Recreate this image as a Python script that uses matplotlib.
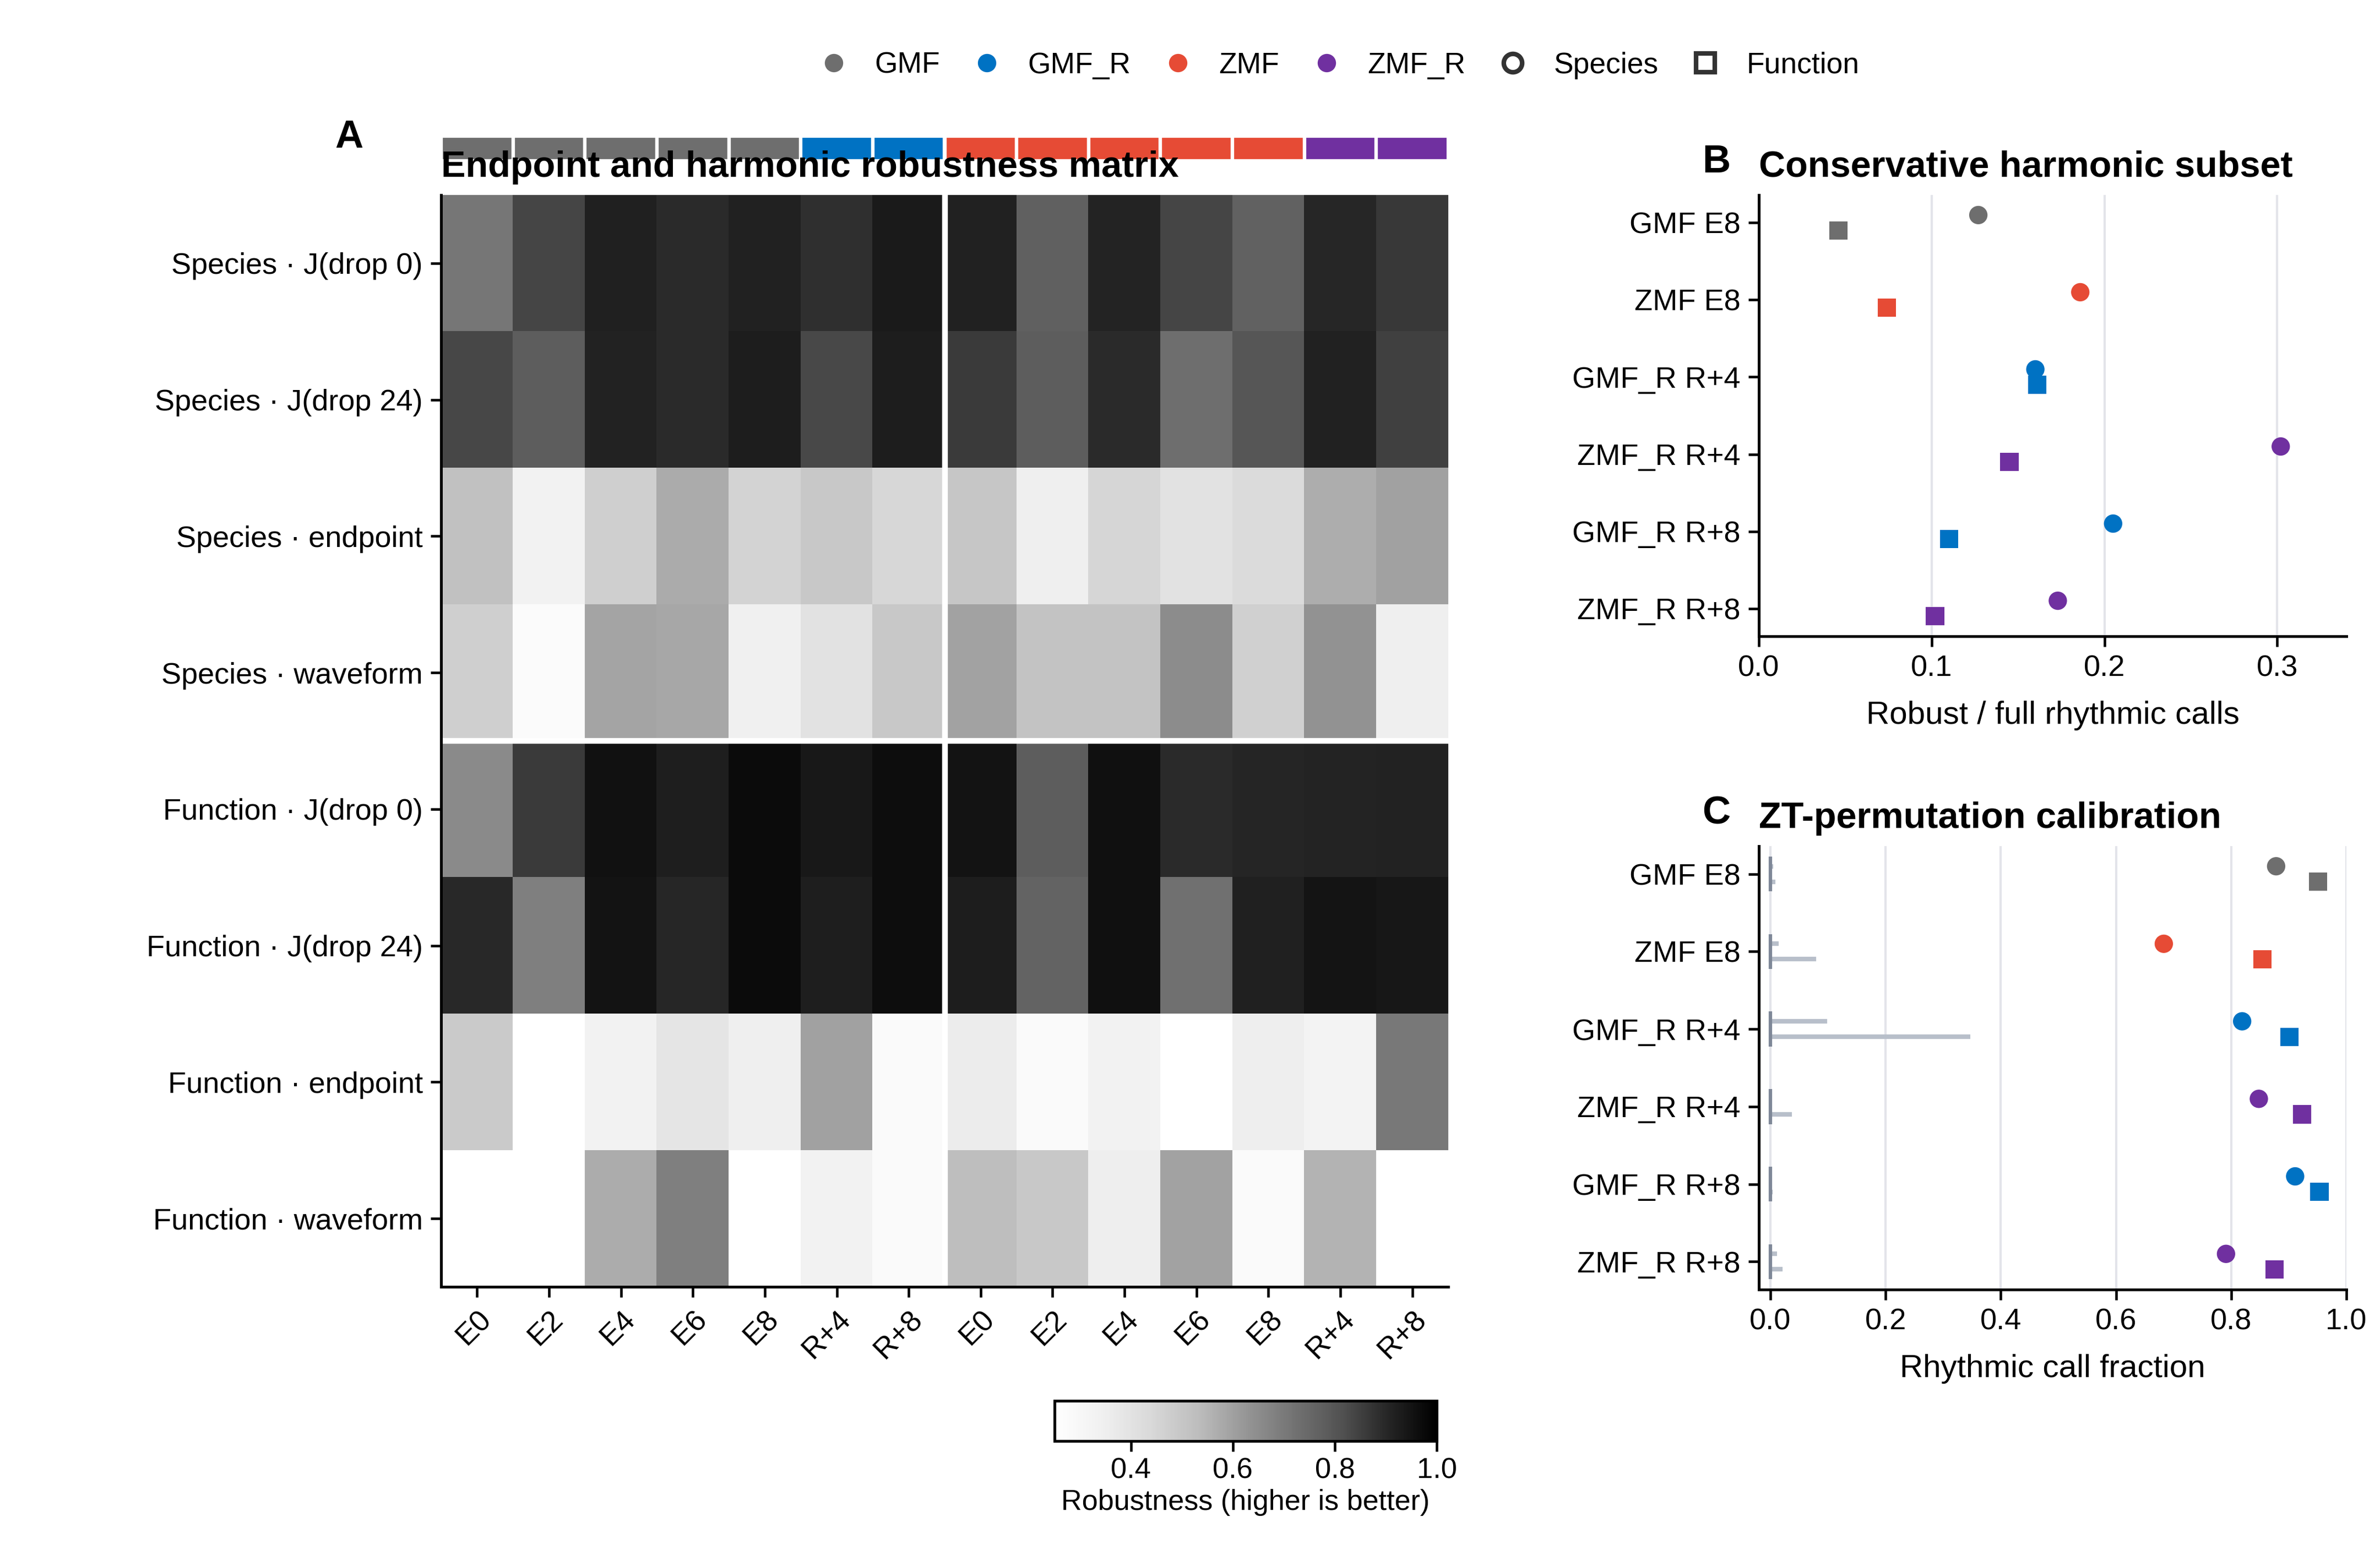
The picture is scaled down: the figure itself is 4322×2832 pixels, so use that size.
import matplotlib
matplotlib.use("Agg")
import matplotlib.pyplot as plt
from matplotlib.lines import Line2D
import numpy as np

plt.rcParams["font.family"] = ["Liberation Sans", "DejaVu Sans"]
plt.rcParams["axes.linewidth"] = 1.2

GROUP_COLORS = {
    "GMF": "#6E6E6E",
    "GMF_R": "#0072C3",
    "ZMF": "#E64B35",
    "ZMF_R": "#7030A0",
}
COLOR_BAR = "#B8BFCA"
COLOR_BASE = "#7F8898"
COLOR_GRID = "#E3E4EA"

# ---- panel A data ----
COL_LABELS = ["E0", "E2", "E4", "E6", "E8", "R+4", "R+8",
              "E0", "E2", "E4", "E6", "E8", "R+4", "R+8"]
COL_GROUPS = ["GMF"] * 5 + ["GMF_R"] * 2 + ["ZMF"] * 5 + ["ZMF_R"] * 2
ROW_LABELS = [
    "Species · J(drop 0)",
    "Species · J(drop 24)",
    "Species · endpoint",
    "Species · waveform",
    "Function · J(drop 0)",
    "Function · J(drop 24)",
    "Function · endpoint",
    "Function · waveform",
]
ROB_SPECIES_J0 = [0.708, 0.836, 0.917, 0.892, 0.914, 0.883, 0.932, 0.914, 0.770, 0.909, 0.838, 0.767, 0.902, 0.864]
ROB_SPECIES_J24 = [0.835, 0.779, 0.911, 0.892, 0.924, 0.831, 0.924, 0.862, 0.779, 0.894, 0.733, 0.799, 0.914, 0.850]
ROB_SPECIES_END = [0.518, 0.331, 0.468, 0.574, 0.458, 0.494, 0.444, 0.501, 0.348, 0.448, 0.397, 0.426, 0.567, 0.596]
ROB_SPECIES_WAVE = [0.468, 0.275, 0.591, 0.582, 0.338, 0.397, 0.494, 0.594, 0.508, 0.508, 0.649, 0.464, 0.636, 0.344]
ROB_FUNC_J0 = [0.657, 0.862, 0.954, 0.921, 0.969, 0.936, 0.962, 0.949, 0.779, 0.957, 0.892, 0.906, 0.908, 0.910]
ROB_FUNC_J24 = [0.898, 0.684, 0.949, 0.902, 0.969, 0.921, 0.962, 0.926, 0.762, 0.957, 0.725, 0.917, 0.946, 0.939]
ROB_FUNC_END = [0.485, 0.240, 0.331, 0.385, 0.344, 0.596, 0.281, 0.360, 0.281, 0.331, 0.240, 0.352, 0.325, 0.703]
ROB_FUNC_WAVE = [0.240, 0.240, 0.572, 0.684, 0.240, 0.331, 0.281, 0.528, 0.494, 0.352, 0.594, 0.281, 0.553, 0.240]

# ---- panels B / C data ----
SUBSET_LABELS = ["GMF E8", "ZMF E8", "GMF_R R+4", "ZMF_R R+4", "GMF_R R+8", "ZMF_R R+8"]
SUBSET_GROUPS = ["GMF", "ZMF", "GMF_R", "ZMF_R", "GMF_R", "ZMF_R"]
SUBSET_SPECIES = [0.127, 0.186, 0.160, 0.302, 0.205, 0.173]
SUBSET_FUNCTION = [0.046, 0.074, 0.161, 0.145, 0.110, 0.102]

CALIB_SPECIES = [0.878, 0.683, 0.819, 0.848, 0.911, 0.791]
CALIB_FUNCTION = [0.951, 0.854, 0.901, 0.923, 0.953, 0.875]
PERM_SPECIES = [0.005, 0.014, 0.099, 0.0, 0.0, 0.012]
PERM_FUNCTION = [0.0085, 0.079, 0.347, 0.037, 0.004, 0.021]

W, H = 4322, 2832
fig = plt.figure(figsize=(W / 300, H / 300), dpi=300, facecolor="white")


def fx(px):
    return px / W


def fy(py):
    return 1 - py / H


# ---- group strip (created first so the title sits on top) ----
ax_strip = fig.add_axes([fx(801), fy(292), fx(2630 - 801), (292 - 247) / H])
ax_strip.bar(np.arange(len(COL_GROUPS)), 1, width=1.0,
             color=[GROUP_COLORS[g] for g in COL_GROUPS],
             edgecolor="white", linewidth=1.5)
ax_strip.set_xlim(-0.5, len(COL_GROUPS) - 0.5)
ax_strip.set_ylim(0, 1)
ax_strip.axis("off")

# ---- panel A heatmap ----
ax = fig.add_axes([fx(801), fy(2336), fx(2630 - 801), (2336 - 354) / H])
matrix = np.array([ROB_SPECIES_J0, ROB_SPECIES_J24, ROB_SPECIES_END, ROB_SPECIES_WAVE,
                   ROB_FUNC_J0, ROB_FUNC_J24, ROB_FUNC_END, ROB_FUNC_WAVE])
im = ax.imshow(matrix, cmap="Greys", vmin=0.25, vmax=1.0, aspect="auto",
               interpolation="nearest")
ax.axvline(6.5, color="white", linewidth=2.5)
ax.axhline(3.5, color="white", linewidth=2.5)
ax.set_xticks(np.arange(len(COL_LABELS)))
ax.set_xticklabels(COL_LABELS, rotation=45, ha="right", rotation_mode="anchor",
                   fontsize=13)
ax.set_yticks(np.arange(len(ROW_LABELS)))
ax.set_yticklabels(ROW_LABELS, fontsize=13)
ax.tick_params(length=4.5, width=1.1)
for side in ("top", "right"):
    ax.spines[side].set_visible(False)
ax.set_title("Endpoint and harmonic robustness matrix", loc="left",
             fontsize=16, fontweight="bold", pad=8)

cax = fig.add_axes([fx(1915), fy(2616), fx(2609 - 1915), (2616 - 2543) / H])
cb = fig.colorbar(im, cax=cax, orientation="horizontal")
cb.set_ticks([0.4, 0.6, 0.8, 1.0])
cb.ax.tick_params(labelsize=12.6, length=4.5, width=1.1, pad=2.5)
cb.outline.set_linewidth(1.2)
cb.set_label("Robustness (higher is better)", fontsize=12.5, labelpad=2)

ypos = np.arange(len(SUBSET_LABELS))
marker_colors = [GROUP_COLORS[g] for g in SUBSET_GROUPS]


def style_side(a):
    for side in ("top", "right"):
        a.spines[side].set_visible(False)
    a.set_yticks(ypos)
    a.set_yticklabels(SUBSET_LABELS, fontsize=13)
    a.set_ylim(len(SUBSET_LABELS) - 1 + 0.36, -0.36)
    a.tick_params(labelsize=13, length=4.5, width=1.1)
    a.grid(axis="x", color=COLOR_GRID, linewidth=1.0)
    a.set_axisbelow(True)


# ---- panel B ----
axb = fig.add_axes([fx(3194), fy(1155), fx(4261 - 3194), (1155 - 354) / H])
axb.scatter(SUBSET_SPECIES, ypos - 0.1, marker="o", s=64, c=marker_colors,
            linewidths=0, zorder=3)
axb.scatter(SUBSET_FUNCTION, ypos + 0.1, marker="s", s=64, c=marker_colors,
            linewidths=0, zorder=3)
axb.set_xlim(0, 0.34)
axb.set_xticks([0.0, 0.1, 0.2, 0.3])
style_side(axb)
axb.set_xlabel("Robust / full rhythmic calls", fontsize=14, labelpad=8)
axb.set_title("Conservative harmonic subset", loc="left", fontsize=16,
              fontweight="bold", pad=8)

# ---- panel C ----
axc = fig.add_axes([fx(3194), fy(2341), fx(4261 - 3194), (2341 - 1536) / H])
axc.hlines(ypos - 0.1, 0, PERM_SPECIES, color=COLOR_BAR, linewidth=2.0, zorder=2)
axc.hlines(ypos + 0.1, 0, PERM_FUNCTION, color=COLOR_BAR, linewidth=2.0, zorder=2)
axc.vlines(np.zeros(len(ypos)), ypos - 0.225, ypos + 0.225, color=COLOR_BASE,
           linewidth=1.5, zorder=2)
axc.scatter(CALIB_SPECIES, ypos - 0.1, marker="o", s=64, c=marker_colors,
            linewidths=0, zorder=3)
axc.scatter(CALIB_FUNCTION, ypos + 0.1, marker="s", s=64, c=marker_colors,
            linewidths=0, zorder=3)
axc.set_xlim(-0.02, 1.0)
axc.set_xticks([0.0, 0.2, 0.4, 0.6, 0.8, 1.0])
style_side(axc)
axc.set_xlabel("Rhythmic call fraction", fontsize=14, labelpad=8)
axc.set_title("ZT-permutation calibration", loc="left", fontsize=16,
              fontweight="bold", pad=8)

# panel letters
fig.text(fx(608), fy(268), "A", fontsize=17, fontweight="bold", va="baseline")
fig.text(fx(3091), fy(313), "B", fontsize=17, fontweight="bold", va="baseline")
fig.text(fx(3091), fy(1495), "C", fontsize=17, fontweight="bold", va="baseline")

# legend
handles = [Line2D([], [], linestyle="", marker="o", markersize=8,
                  markerfacecolor=GROUP_COLORS[g], markeredgewidth=0)
           for g in ("GMF", "GMF_R", "ZMF", "ZMF_R")]
handles.append(Line2D([], [], linestyle="", marker="o", markersize=8,
                      markerfacecolor="white", markeredgecolor="#333333",
                      markeredgewidth=2))
handles.append(Line2D([], [], linestyle="", marker="s", markersize=8,
                      markerfacecolor="white", markeredgecolor="#333333",
                      markeredgewidth=2))
fig.legend(handles, ["GMF", "GMF_R", "ZMF", "ZMF_R", "Species", "Function"],
           loc="center", bbox_to_anchor=(0.562, 0.958), ncol=6, frameon=False,
           fontsize=12.8, handlelength=1.2, handletextpad=0.8, columnspacing=1.0)

fig.savefig("out.png", dpi=300, facecolor="white")
